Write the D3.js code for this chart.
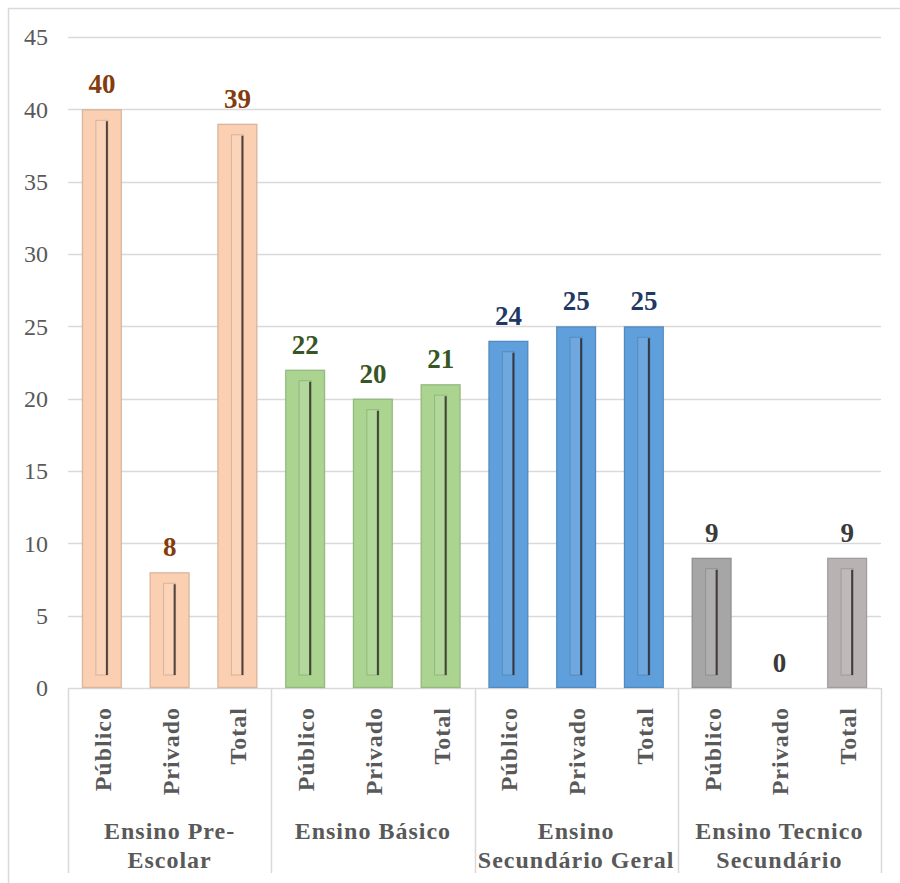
<!DOCTYPE html>
<html><head><meta charset="utf-8">
<script src="https://cdn.jsdelivr.net/npm/d3@7"></script>
<style>
body{margin:0;background:#fff;}
svg{display:block;}
text{font-family:"Liberation Serif","Times New Roman",serif;}
</style></head>
<body>
<svg id="chart" width="900" height="883"></svg>
<script>
const groups = [["Ensino Pre-","Escolar"],["Ensino Básico"],["Ensino","Secundário Geral"],["Ensino Tecnico","Secundário"]];
const subLabels = ["Público","Privado","Total"];
const valuesPreEscolar = [40, 8, 39];
const valuesBasico = [22, 20, 21];
const valuesSecundario = [24, 25, 25];
const valuesTecnico = [9, 0, 9];
const yTicks = [0,5,10,15,20,25,30,35,40,45];

const groupValues = [valuesPreEscolar, valuesBasico, valuesSecundario, valuesTecnico];
const fills = [["#FBD0B2","#FBD0B2","#FBD0B2"],["#AAD490","#AAD490","#AAD490"],["#5E9FDC","#5E9FDC","#5E9FDC"],["#A6A6A6","#A6A6A6","#B8B3B2"]];
const labelColors = ["#843C0C","#375623","#1F3864","#3A3A3A"];

const data = [];
groupValues.forEach((vals,gi)=>vals.forEach((v,si)=>data.push({key:gi+"-"+si,gi,si,v,sub:subLabels[si]})));

const svg = d3.select("#chart");
const left=68, right=881, y0=688, yTop=37;
const x = d3.scaleBand().domain(data.map(d=>d.key)).range([left,right]).paddingInner(0.41).paddingOuter(0.205);
const y = d3.scaleLinear().domain([0,45]).range([y0,yTop]);

// outer border
svg.append("rect").attr("x",8.5).attr("y",8.5).attr("width",900).attr("height",900)
  .attr("fill","none").attr("stroke","#d9d9d9").attr("stroke-width",1.5);

// gridlines
svg.append("g").selectAll("line").data(yTicks).join("line")
  .attr("x1",left).attr("x2",right).attr("y1",d=>Math.round(y(d))+0.5).attr("y2",d=>Math.round(y(d))+0.5)
  .attr("stroke","#d9d9d9").attr("stroke-width",1.5);

// y tick labels
svg.append("g").selectAll("text").data(yTicks).join("text")
  .attr("x",48).attr("y",d=>y(d)).attr("dy","0.35em").attr("text-anchor","end")
  .attr("font-size",24).attr("fill","#595959").text(d=>d);

// group separators
const step = x.step();
const sepX = d3.range(5).map(i=>left + i*3*step);
svg.append("g").selectAll("line").data(sepX).join("line")
  .attr("x1",d=>Math.round(d)+0.5).attr("x2",d=>Math.round(d)+0.5).attr("y1",y0).attr("y2",873)
  .attr("stroke","#d9d9d9").attr("stroke-width",1.5);

// bars
const bw = x.bandwidth();
const bars = svg.append("g").selectAll("g").data(data.filter(d=>d.v>0)).join("g");
bars.append("rect").attr("x",d=>x(d.key)).attr("y",d=>y(d.v)).attr("width",bw).attr("height",d=>y0-y(d.v))
  .attr("fill",d=>fills[d.gi][d.si]);
// edge shading
bars.append("rect").attr("x",d=>x(d.key)+0.5).attr("y",d=>y(d.v)+0.5).attr("width",bw-1).attr("height",d=>y0-y(d.v)-1)
  .attr("fill","none").attr("stroke","rgba(0,0,0,0.12)").attr("stroke-width",1.5);
// inner bevel
bars.append("rect").attr("x",d=>x(d.key)+bw/2-6).attr("y",d=>y(d.v)+11).attr("width",12).attr("height",d=>Math.max(0,y0-y(d.v)-24))
  .attr("fill","rgba(255,255,255,0.10)").attr("stroke","rgba(0,0,0,0.15)").attr("stroke-width",1);
bars.append("line").attr("x1",d=>x(d.key)+bw/2+5).attr("x2",d=>x(d.key)+bw/2+5)
  .attr("y1",d=>y(d.v)+12).attr("y2",y0-13)
  .attr("stroke","rgba(40,30,30,0.8)").attr("stroke-width",2);

// value labels
svg.append("g").selectAll("text").data(data).join("text")
  .attr("x",d=>x(d.key)+bw/2).attr("y",d=>y(d.v)-16).attr("text-anchor","middle")
  .attr("font-size",27).attr("font-weight","bold").attr("fill",d=>labelColors[d.gi]).text(d=>d.v);

// rotated sub labels
svg.append("g").selectAll("text").data(data).join("text")
  .attr("transform",d=>`translate(${x(d.key)+bw/2+9},707) rotate(-90)`)
  .attr("text-anchor","end").attr("font-size",24).attr("font-weight","bold")
  .attr("letter-spacing",1).attr("fill","#595959").text(d=>d.sub);

// group labels
groups.forEach((lines,gi)=>{
  const cx = left + (gi*3+1.5)*step;
  lines.forEach((ln,li)=>{
    svg.append("text").attr("x",cx).attr("y",839+li*29).attr("text-anchor","middle")
      .attr("font-size",24).attr("font-weight","bold").attr("letter-spacing",1)
      .attr("fill","#595959").text(ln);
  });
});
</script>
</body></html>
